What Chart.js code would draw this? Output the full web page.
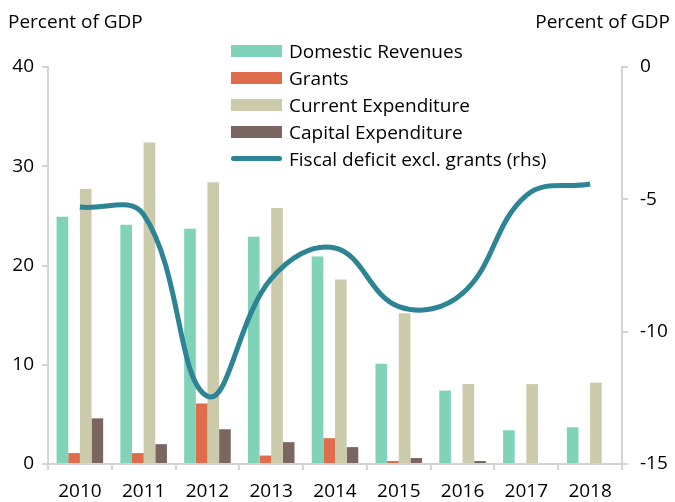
<!DOCTYPE html>
<html>
<head>
<meta charset="utf-8">
<script src="https://cdn.jsdelivr.net/npm/chart.js@4"></script>
<style>
body{margin:0;background:#fff;font-family:"Open Sans",Arial,sans-serif;}
#wrap{position:relative;width:675px;height:502px;}
.ttl{position:absolute;top:8px;font-size:19px;color:#000;}
#legend{position:absolute;left:231px;top:37px;font-size:19px;}
#legend div{height:27px;display:flex;align-items:center;}
#legend span.sw{display:inline-block;width:51px;margin-right:7px;}
</style>
</head>
<body>
<div id="wrap">
<canvas id="c" width="675" height="502"></canvas>
<div class="ttl" style="left:8px">Percent of GDP</div>
<div class="ttl" style="right:5px">Percent of GDP</div>
<div id="legend"></div>
</div>
<script>
const years=['2010','2011','2012','2013','2014','2015','2016','2017','2018'];
const domRev=[24.9,24.1,23.7,22.9,20.9,10.1,7.4,3.4,3.7];
const grants=[1.1,1.1,6.1,0.85,2.6,0.3,0,0,0];
const curExp=[27.7,32.4,28.4,25.8,18.6,15.2,8.05,8.05,8.2];
const capExp=[4.6,2.0,3.5,2.2,1.7,0.6,0.3,0,0];
const deficit=[-5.29,-5.58,-12.44,-8.0,-6.84,-9.05,-8.55,-4.85,-4.42];

const axisCol='#d4d4d4';
const font={family:'"Open Sans", Arial, sans-serif',size:19};
const ds=[
  {type:'line',label:'Fiscal deficit excl. grants (rhs)',data:deficit,yAxisID:'y1',borderColor:'#2d8494',borderWidth:5,pointRadius:0,tension:0.4,order:0},
  {label:'Domestic Revenues',data:domRev,backgroundColor:'#80d2b9',order:1},
  {label:'Grants',data:grants,backgroundColor:'#df6c4a',order:1},
  {label:'Current Expenditure',data:curExp,backgroundColor:'#cbcaaa',order:1},
  {label:'Capital Expenditure',data:capExp,backgroundColor:'#7b6561',order:1}
];
new Chart(document.getElementById('c'),{
  type:'bar',
  data:{labels:years,datasets:ds},
  options:{
    responsive:false,animation:false,
    layout:{padding:{top:67,left:0,right:0,bottom:0}},
    datasets:{bar:{categoryPercentage:0.73,barPercentage:1}},
    plugins:{legend:{display:false},tooltip:{enabled:false}},
    scales:{
      x:{grid:{display:true,drawOnChartArea:false,offset:true,tickLength:6,color:axisCol,lineWidth:2},
         border:{color:axisCol,width:2},
         ticks:{color:'#000',font,padding:10,maxRotation:0},
         afterFit(s){s.height=38;}},
      y:{position:'left',min:0,max:40,
         ticks:{stepSize:10,color:'#000',font,padding:8},
         grid:{drawOnChartArea:false,tickLength:6,color:axisCol,lineWidth:2},
         border:{color:axisCol,width:2},
         afterFit(s){s.width=48;}},
      y1:{position:'right',min:-15,max:0,
         ticks:{stepSize:5,color:'#000',font,padding:12},
         grid:{drawOnChartArea:false,tickLength:6,color:axisCol,lineWidth:2},
         border:{color:axisCol,width:2},
         afterFit(s){s.width=53;}}
    }
  }
});
const lg=document.getElementById('legend');
[1,2,3,4,0].forEach(i=>{
  const d=ds[i];const row=document.createElement('div');
  const sw=i===0?`<span class="sw" style="height:5px;border-radius:3px;background:${d.borderColor}"></span>`
                :`<span class="sw" style="height:12px;background:${d.backgroundColor}"></span>`;
  row.innerHTML=sw+d.label;lg.appendChild(row);
});
</script>
</body>
</html>
